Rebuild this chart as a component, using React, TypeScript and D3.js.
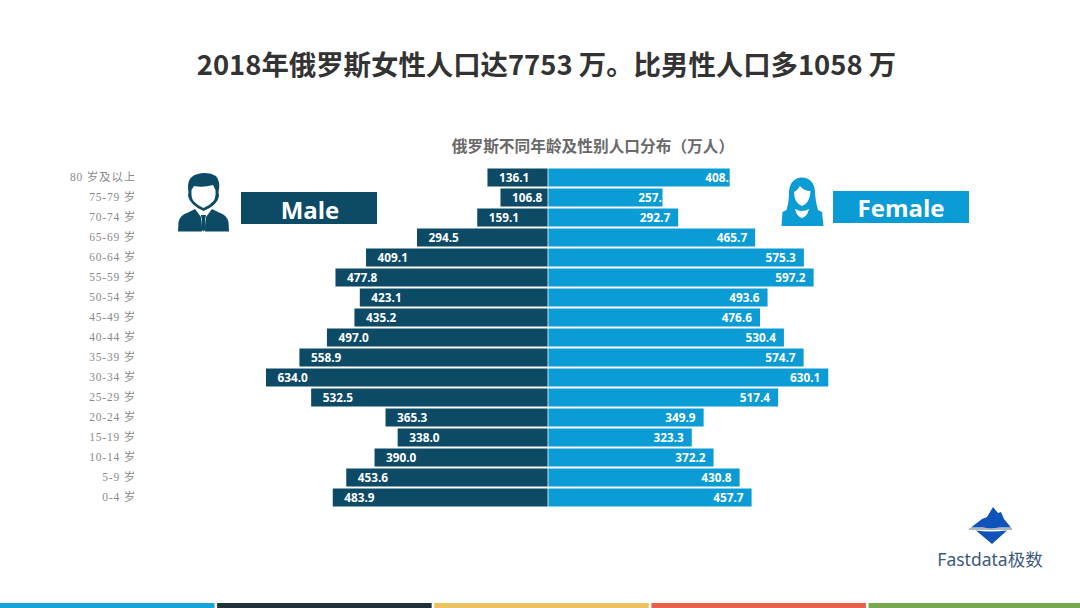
import React from "react";
import * as d3 from "d3";

const ageGroups = ["80 岁及以上","75-79 岁","70-74 岁","65-69 岁","60-64 岁","55-59 岁","50-54 岁","45-49 岁","40-44 岁","35-39 岁","30-34 岁","25-29 岁","20-24 岁","15-19 岁","10-14 岁","5-9 岁","0-4 岁"];
const maleValues = [136.1,106.8,159.1,294.5,409.1,477.8,423.1,435.2,497.0,558.9,634.0,532.5,365.3,338.0,390.0,453.6,483.9];
const femaleValues = [408.5,257.5,292.7,465.7,575.3,597.2,493.6,476.6,530.4,574.7,630.1,517.4,349.9,323.3,372.2,430.8,457.7];
const overflowingLabels = ["80 岁及以上","75-79 岁"];
const stripColors = ["#17a3d9","#22303a","#ecc160","#e8604c","#78a850"];

const MALE = "#0c4a66";
const FEMALE = "#0b9bd5";
const CJK = "'Noto Sans CJK SC','Noto Sans',sans-serif";
const LATIN = "'Open Sans','Noto Sans CJK SC',sans-serif";

export default function App() {
  const cx = 548;
  const x = d3.scaleLinear().domain([0, 634]).range([0, 282]);
  const y = d3.scaleBand<string>().domain(ageGroups).range([167.5, 507.5]).paddingInner(0.1).paddingOuter(0.05);
  const stripX = d3.scaleBand<number>().domain(d3.range(stripColors.length)).range([0, 1083]).paddingInner(0.012);

  return (
    <svg width={1080} height={608} viewBox="0 0 1080 608"
      style={{ position: "fixed", left: 0, top: 0, display: "block", background: "#fff" }}>
      <defs>
        {ageGroups.map((g, i) => (
          <clipPath id={`fc${i}`} key={g}>
            <rect x={cx} y={y(g)} width={x(femaleValues[i])} height={y.bandwidth()} />
          </clipPath>
        ))}
      </defs>

      <text x={546.5} y={75} textAnchor="middle" fontFamily={CJK} fontWeight={700} fontSize={27.4} fill="#333333">
        2018年俄罗斯女性人口达7753 万。比男性人口多1058 万
      </text>
      <text x={593} y={152} textAnchor="middle" fontFamily={CJK} fontWeight={700} fontSize={15.7} fill="#6a6a6a">
        俄罗斯不同年龄及性别人口分布（万人）
      </text>

      {ageGroups.map((g, i) => {
        const top = y(g)!;
        const mid = top + y.bandwidth() / 2;
        const mw = x(maleValues[i]);
        const fw = x(femaleValues[i]);
        const over = overflowingLabels.includes(g);
        return (
          <g key={g}>
            <text x={136} y={mid + 3} textAnchor="end" fontFamily="'Liberation Serif','Noto Sans CJK SC',serif"
              fontSize={11.5} letterSpacing={0.8} fill="#8a8a8a">{g}</text>
            <rect x={cx - mw} y={top} width={mw} height={y.bandwidth()} fill={MALE} />
            <rect x={cx} y={top} width={fw} height={y.bandwidth()} fill={FEMALE} />
            <text x={cx - mw + 11.5} y={mid + 4} fontFamily={LATIN} fontWeight={700} fontSize={11.8} fill="#fff">
              {maleValues[i].toFixed(1)}
            </text>
            <text x={cx + fw + (over ? 6 : -8)} y={mid + 4} textAnchor="end" clipPath={`url(#fc${i})`}
              fontFamily={LATIN} fontWeight={700} fontSize={11.8} fill="#fff">
              {femaleValues[i].toFixed(1)}
            </text>
          </g>
        );
      })}
      <line x1={cx} x2={cx} y1={167.5} y2={507.5} stroke="#fff" strokeWidth={0.8} />

      {/* Male badge */}
      <rect x={241} y={192} width={136} height={32} fill={MALE} />
      <text x={310} y={219} textAnchor="middle" fontFamily={LATIN} fontWeight={700} fontSize={24} fill="#fff">Male</text>
      <g fill={MALE}>
        <path d="M178 231.5 L178.5 222 Q180 215 188 212.5 L195 209 L201 217 L202 231.5 Z" />
        <path d="M229 231.5 L228.5 222 Q227 215 219 212.5 L212 209 L206 217 L205 231.5 Z" />
        <path d="M201 215 L206 215 L205.2 219 L206 229 L203.5 231.5 L201 229 L201.8 219 Z" />
        <path fillRule="evenodd" d="M188.5 192 Q186 178 196 174.5 Q208 171 216 176 Q221 182 218.5 192 L219 196 Q218 205 203.5 211 Q190 205 188 196 Z M191.5 190 Q191 198 193.5 201 Q198 206 203.5 208 Q209 206 213.5 201 Q216 198 215.5 190 L213 185 Q203 188 194 186 Z" />
      </g>

      {/* Female badge */}
      <rect x={833} y={191} width={136} height={32} fill={FEMALE} />
      <text x={901} y={217} textAnchor="middle" fontFamily={LATIN} fontWeight={700} fontSize={24} fill="#fff">Female</text>
      <g fill={FEMALE}>
        <path fillRule="evenodd" d="M786.5 210 Q789.5 199 789 191 Q790.5 178 802 177.5 Q813.5 178 815 191 Q815 199 818 210 L822 212 L823.5 226 L781.5 226 L782.5 212 Z M794 192 Q794 203 802 206 Q810 203 810.5 191 Q804 191 800 186 Q798 190 794 192 Z M795 209 Q797 217 802 218 Q807 217 809 209 Q805 211 802 211 Q799 211 795 209 Z" />
      </g>

      {/* Logo */}
      <g>
        <path d="M993 507 L998 513 L1001 512 L1004 519 L1011 527.5 L1000 527.5 Q990 529 983 527.5 L971 527.5 L982 519 L987 517 Z" fill="#0f52b8" />
        <path d="M976 530.5 Q990 532.5 1007 530.5 L992 544 Z" fill="#0f52b8" />
        <path d="M969 529 L1012 529" stroke="#33475b" strokeWidth={0.8} />
        <text x={990} y={566} textAnchor="middle" fontFamily="'Noto Sans','Noto Sans CJK SC',sans-serif"
          fontSize={17.5} fill="#3d5a7a">Fastdata极数</text>
      </g>

      {/* Bottom strips */}
      {stripColors.map((c, i) => (
        <rect key={c} x={stripX(i)} y={603} width={stripX.bandwidth()} height={5} fill={c} />
      ))}
    </svg>
  );
}
